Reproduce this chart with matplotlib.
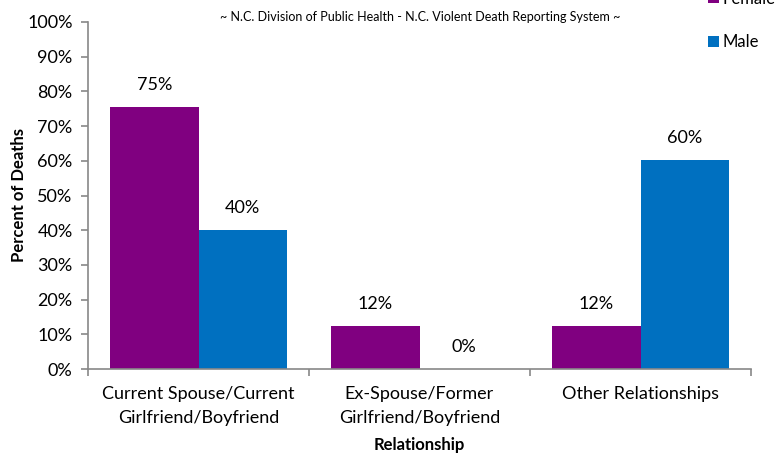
import matplotlib
matplotlib.use("Agg")
import matplotlib.pyplot as plt
import numpy as np

categories = ["Current Spouse/Current\nGirlfriend/Boyfriend",
              "Ex-Spouse/Former\nGirlfriend/Boyfriend",
              "Other Relationships"]
female = [75.4, 12.4, 12.4]
male = [40.0, 0.0, 60.2]
series_names = ["Female", "Male"]
colors = ["#800080", "#0070C0"]
yticks = [0, 10, 20, 30, 40, 50, 60, 70, 80, 90, 100]

plt.rcParams['font.family'] = ['Lato', 'DejaVu Sans']

fig = plt.figure(figsize=(7.78, 4.55), dpi=100)
ax = fig.add_axes([88/778, 1 - 369/455, (751-88)/778, (369-22)/455])

x = np.arange(len(categories))
w = 0.4
b1 = ax.bar(x - w/2, female, w, color=colors[0], label=series_names[0])
b2 = ax.bar(x + w/2, male, w, color=colors[1], label=series_names[1])

for bars, vals in ((b1, female), (b2, male)):
    for r, v in zip(bars, vals):
        ax.annotate(f"{v:.0f}%", (r.get_x() + r.get_width()/2, v),
                    xytext=(0, 14), textcoords="offset pixels",
                    ha="center", va="bottom", fontsize=13, color="black")

ax.set_xlim(-0.5, len(categories) - 0.5)
ax.set_ylim(0, 100)
ax.set_yticks(yticks)
ax.set_yticklabels([f"{t}%" for t in yticks], fontsize=13)
ax.set_xticks(x)
ax.set_xticklabels(categories, fontsize=13, linespacing=1.65)
ax.set_xticks(np.arange(len(categories) + 1) - 0.5, minor=True)
ax.tick_params(axis='x', which='major', length=0, pad=12)
ax.tick_params(axis='x', which='minor', length=5, color="#888888", width=1.2)
ax.tick_params(axis='y', length=5, color="#888888", width=1.2, pad=6)

for s in ["top", "right"]:
    ax.spines[s].set_visible(False)
for s in ["left", "bottom"]:
    ax.spines[s].set_color("#888888")
    ax.spines[s].set_linewidth(1.2)

ax.set_ylabel("Percent of Deaths", fontsize=12, fontweight="bold", labelpad=0)
ax.set_xlabel("Relationship", fontsize=12, fontweight="bold", labelpad=8)

fig.text(420/778, 1 - 17/455,
         "~ N.C. Division of Public Health - N.C. Violent Death Reporting System ~",
         ha="center", va="center", fontsize=9)

fig.legend(handles=[b1, b2], labels=series_names, loc="upper left",
           bbox_to_anchor=(701/778, 1 + 16/455), frameon=False, fontsize=12,
           handlelength=0.65, handleheight=0.65, handletextpad=0.25,
           labelspacing=1.65, borderaxespad=0)

fig.savefig("out.png", dpi=100)
